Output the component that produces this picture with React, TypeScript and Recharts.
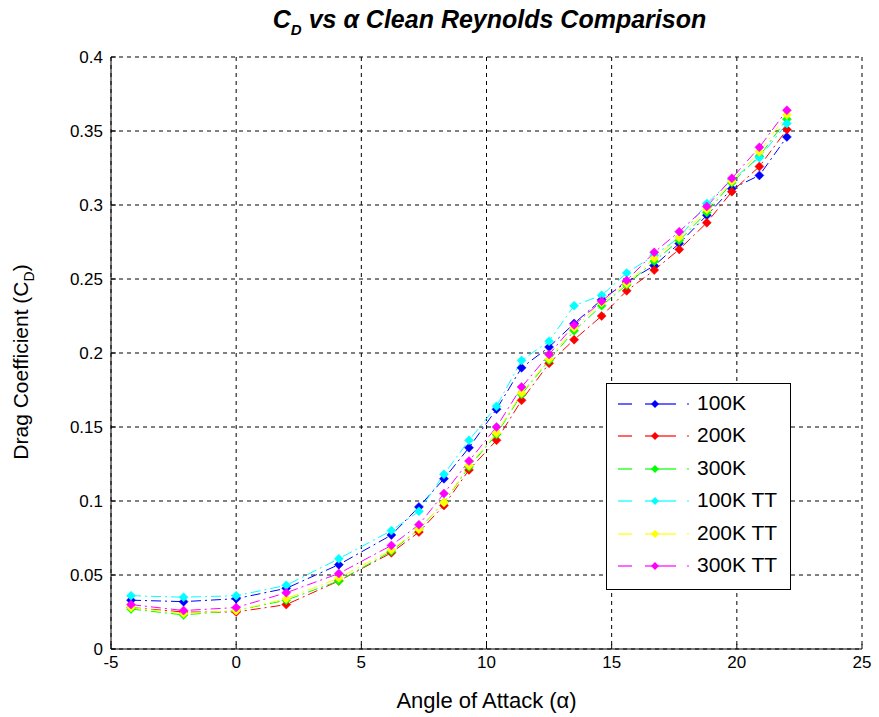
import React from 'react';
import { LineChart, Line, XAxis, YAxis, CartesianGrid } from 'recharts';

const alpha = [-4.2, -2.1, 0, 2.0, 4.1, 6.2, 7.3, 8.3, 9.3, 10.4, 11.4, 12.5, 13.5, 14.6, 15.6, 16.7, 17.7, 18.8, 19.8, 20.9, 22.0];
const cd100K = [0.033, 0.032, 0.034, 0.041, 0.057, 0.077, 0.096, 0.115, 0.136, 0.162, 0.190, 0.204, 0.220, 0.236, 0.248, 0.259, 0.274, 0.293, 0.311, 0.320, 0.346];
const cd200K = [0.028, 0.025, 0.025, 0.030, 0.046, 0.065, 0.079, 0.097, 0.121, 0.141, 0.168, 0.193, 0.209, 0.225, 0.242, 0.256, 0.270, 0.288, 0.309, 0.326, 0.351];
const cd300K = [0.027, 0.023, 0.026, 0.033, 0.046, 0.066, 0.081, 0.099, 0.123, 0.145, 0.172, 0.195, 0.215, 0.232, 0.246, 0.262, 0.276, 0.295, 0.315, 0.333, 0.358];
const cd100KTT = [0.036, 0.035, 0.036, 0.043, 0.061, 0.080, 0.093, 0.118, 0.141, 0.164, 0.195, 0.208, 0.232, 0.239, 0.254, 0.266, 0.278, 0.301, 0.317, 0.332, 0.355];
const cd200KTT = [0.028, 0.024, 0.026, 0.034, 0.048, 0.067, 0.081, 0.099, 0.124, 0.146, 0.173, 0.196, 0.217, 0.234, 0.247, 0.264, 0.278, 0.297, 0.316, 0.336, 0.361];
const cd300KTT = [0.030, 0.026, 0.028, 0.038, 0.051, 0.070, 0.084, 0.105, 0.127, 0.150, 0.177, 0.199, 0.219, 0.235, 0.249, 0.268, 0.282, 0.299, 0.318, 0.339, 0.364];

const seriesNames = ['100K', '200K', '300K', '100K TT', '200K TT', '300K TT'];
const seriesColors = ['#0000ff', '#ff0000', '#00ff00', '#00ffff', '#ffff00', '#ff00ff'];
const seriesValues = [cd100K, cd200K, cd300K, cd100KTT, cd200KTT, cd300KTT];

const xTicks = [-5, 0, 5, 10, 15, 20, 25];
const yTicks = [0, 0.05, 0.1, 0.15, 0.2, 0.25, 0.3, 0.35, 0.4];

const keys = seriesNames.map((_, i) => 's' + i);
const data = alpha.map((a, j) => {
  const row: any = { a };
  seriesValues.forEach((vals, i) => { row[keys[i]] = vals[j]; });
  return row;
});

const FONT = '"Liberation Sans", Arial, Helvetica, sans-serif';

const makeDiamond = (color: string) => (props: any) => {
  const { cx, cy, index } = props;
  if (cx == null || cy == null) return <g key={'d' + index} />;
  const r = 4.5;
  return (
    <polygon
      key={'d' + index}
      points={`${cx},${cy - r} ${cx + r},${cy} ${cx},${cy + r} ${cx - r},${cy}`}
      fill={color}
      stroke={color}
      strokeWidth={0.5}
    />
  );
};

const LegendBox = () => (
  <div
    style={{
      position: 'absolute',
      left: 606,
      top: 383,
      width: 185,
      height: 207,
      border: '1px solid #000',
      background: '#fff',
      boxSizing: 'border-box',
      paddingTop: 4,
      fontFamily: FONT,
    }}
  >
    {seriesNames.map((name, i) => (
      <div key={name} style={{ height: 32.4, position: 'relative' }}>
        <svg width={80} height={14} style={{ position: 'absolute', left: 11, top: 9 }}>
          <line x1={0} y1={7} x2={14} y2={7} stroke={seriesColors[i]} strokeWidth={1.2} />
          <line x1={27} y1={7} x2={58} y2={7} stroke={seriesColors[i]} strokeWidth={1.2} />
          <line x1={69} y1={7} x2={71} y2={7} stroke={seriesColors[i]} strokeWidth={1.2} />
          <polygon points="37,3 41,7 37,11 33,7" fill={seriesColors[i]} />
        </svg>
        <span style={{ position: 'absolute', left: 90, top: 3, fontSize: 21, lineHeight: '24px', color: '#000', whiteSpace: 'nowrap' }}>{name}</span>
      </div>
    ))}
  </div>
);

export default function App() {
  return (
    <div style={{ position: 'absolute', left: 0, top: 0, width: 879, height: 717, background: '#fff' }}>
      <LineChart width={879} height={717} data={data} margin={{ top: 57, right: 17, bottom: 9, left: 51 }}>
        <CartesianGrid stroke="#000" strokeDasharray="4 4" strokeWidth={1} />
        <XAxis
          dataKey="a"
          type="number"
          domain={[-5, 25]}
          ticks={xTicks}
          tickSize={-5}
          tickMargin={12}
          height={59}
          stroke="#000"
          tick={{ fill: '#000', fontSize: 17, fontFamily: FONT }}
          label={{ value: 'Angle of Attack (α)', position: 'insideBottom', offset: 0, fill: '#000', fontSize: 22, fontFamily: FONT }}
          allowDataOverflow
        />
        <XAxis
          xAxisId="t"
          orientation="top"
          type="number"
          domain={[-5, 25]}
          ticks={xTicks}
          tickSize={-5}
          height={0}
          stroke="#000"
          tickFormatter={() => ''}
          allowDataOverflow
        />
        <YAxis
          type="number"
          domain={[0, 0.4]}
          ticks={yTicks}
          tickSize={-5}
          tickMargin={13}
          width={60}
          stroke="#000"
          tickFormatter={(v: number) => String(v)}
          tick={{ fill: '#000', fontSize: 17, fontFamily: FONT }}
          allowDataOverflow
        />
        <YAxis
          yAxisId="r"
          orientation="right"
          type="number"
          domain={[0, 0.4]}
          ticks={yTicks}
          tickSize={-5}
          width={0}
          stroke="#000"
          tickFormatter={() => ''}
          allowDataOverflow
        />
        {keys.map((k, i) => (
          <Line
            key={k}
            dataKey={k}
            name={seriesNames[i]}
            stroke={seriesColors[i]}
            strokeWidth={1}
            strokeDasharray="10 4 2 4"
            dot={makeDiamond(seriesColors[i])}
            activeDot={false}
            isAnimationActive={false}
          />
        ))}
      </LineChart>
      <div
        style={{
          position: 'absolute',
          left: 111,
          width: 757,
          top: 5,
          textAlign: 'center',
          fontFamily: FONT,
          fontWeight: 'bold',
          fontStyle: 'italic',
          fontSize: 25,
          lineHeight: '28px',
          color: '#000',
          whiteSpace: 'nowrap',
        }}
      >
        C<span style={{ fontSize: 15, position: 'relative', top: 7 }}>D</span> vs α Clean Reynolds Comparison
      </div>
      <div
        style={{
          position: 'absolute',
          left: 22,
          top: 362,
          transform: 'translate(-50%, -50%) rotate(-90deg)',
          fontFamily: FONT,
          fontSize: 21,
          lineHeight: '24px',
          color: '#000',
          whiteSpace: 'nowrap',
        }}
      >
        Drag Coefficient (C<span style={{ fontSize: 14, position: 'relative', top: 6 }}>D</span>)
      </div>
      <LegendBox />
    </div>
  );
}
